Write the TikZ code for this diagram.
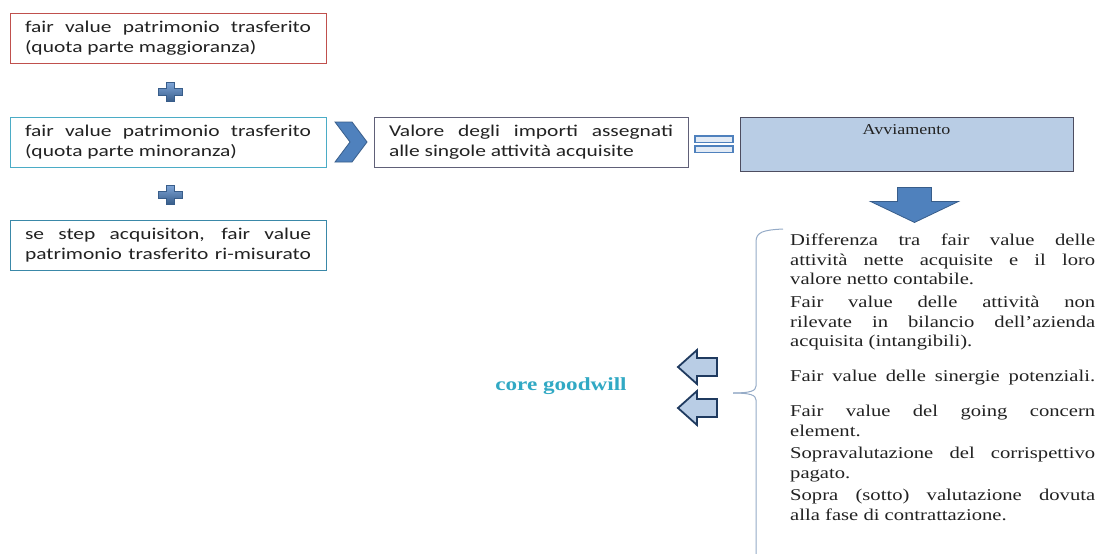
\documentclass[tikz,border=0pt]{standalone}
\usepackage{fontspec}
\setmainfont{Liberation Serif}
\newfontfamily\calfont[FakeStretch=1.3]{Carlito}
\newfontfamily\serfont[FakeStretch=1.25]{Liberation Serif}
\newfontfamily\titlefont[FakeStretch=1.2]{Liberation Serif}
\usetikzlibrary{calc}

\definecolor{boxred}{HTML}{C0504D}
\definecolor{boxcyan}{HTML}{4BACC6}
\definecolor{boxteal}{HTML}{3A88A8}
\definecolor{boxgray}{HTML}{606078}
\definecolor{shapeblue}{HTML}{4F81BD}
\definecolor{shapeedge}{HTML}{385D8A}
\definecolor{plushi}{HTML}{7FA6D8}
\definecolor{paleblue}{HTML}{B9CDE5}
\definecolor{navy}{HTML}{1F3A5F}
\definecolor{bracecol}{HTML}{95ABC7}
\definecolor{goodwill}{HTML}{31A9C4}
\definecolor{txt}{HTML}{222222}

\tikzset{
  srcbox/.style={draw, line width=0.9pt, fill=white, minimum width=316pt,
    minimum height=50pt, text width=286pt, inner xsep=15pt, inner ysep=2pt,
    align=justify, text=txt, font=\calfont\fontsize{16.5}{19.5}\selectfont},
  para/.style={anchor=north west, text width=305pt, align=justify, inner sep=0pt,
    text=txt, font=\serfont\fontsize{16.5}{19.5}\selectfont},
  plussign/.pic={
    \draw[top color=plushi, bottom color=shapeedge, draw=shapeedge, line width=0.6pt]
      (-4,-9.5) -- (4,-9.5) -- (4,-3.5) -- (12,-3.5) -- (12,3.5) -- (4,3.5) --
      (4,9.5) -- (-4,9.5) -- (-4,3.5) -- (-12,3.5) -- (-12,-3.5) -- (-4,-3.5) -- cycle;
  },
  chevron/.pic={
    \draw[fill=shapeblue, draw=shapeedge, line width=0.8pt]
      (-16,-20) -- (1,-20) -- (16,0) -- (1,20) -- (-16,20) -- (-1,0) -- cycle;
  },
  equalsign/.pic={
    \draw[fill=paleblue!40, draw=shapeblue, line width=1.4pt]
      (-19,-7) rectangle (19,-0.5) (-19,3) rectangle (19,9.5);
  },
  downarrow/.pic={
    \draw[fill=shapeblue, draw=shapeedge, line width=0.8pt]
      (-17,0) -- (17,0) -- (17,14) -- (44,14) -- (0,35) -- (-44,14) -- (-17,14) -- cycle;
  },
  leftarrow/.pic={
    \draw[fill=paleblue, draw=navy, line width=1.8pt, line join=miter]
      (0,0) -- (19,-17) -- (19,-9) -- (39,-9) -- (39,9) -- (19,9) -- (19,17) -- cycle;
  },
}

\begin{document}
\begin{tikzpicture}[x=1pt, y=-1pt]
  \useasboundingbox[fill=white] (0,0) rectangle (1104,554);

  % operands of the sum
  \node[srcbox, draw=boxred] (maj) at (168,38)
    {fair value patrimonio trasferito\linebreak (quota parte maggioranza)};
  \node[srcbox, draw=boxcyan] (min) at (168,142)
    {fair value patrimonio trasferito\linebreak (quota parte minoranza)};
  \node[srcbox, draw=boxteal] (stp) at (168,245)
    {\parfillskip=0pt se step acquisiton, fair value\linebreak patrimonio trasferito ri-misurato\par};

  \pic at ($(maj.south)!0.5!(min.north)+(2,2)$) {plussign};
  \pic at ($(min.south)!0.5!(stp.north)+(2,1)$) {plussign};

  % assigned values and goodwill
  \node[srcbox, draw=boxgray, minimum width=314pt, text width=284pt] (val) at (531,142)
    {Valore degli importi assegnati\linebreak alle singole attività acquisite};
  \node[draw=boxgray!80!black, line width=0.9pt, fill=paleblue, minimum width=333pt,
        minimum height=54pt, inner sep=0pt] (avv) at (906.5,144) {};
  \node[text=txt, font=\titlefont\fontsize{15}{17}\selectfont, anchor=base]
    (avvtxt) at ($(avv.north)+(0,18)$) {Avviamento};

  \pic at ($(min.east)!0.5!(val.west)+(1,0)$) {chevron};
  \pic at ($(val.east)!0.5!(avv.west)$) {equalsign};
  \pic at ($(avv.south)+(8,16)$) {downarrow};

  % components of goodwill
  \coordinate (btop) at (783,229);
  \coordinate (btip) at (733,393);
  \coordinate (bbot) at (756,554);
  \draw[bracecol, line width=1pt]
    (btop) .. controls (763,230) and (756,232) .. (756,242) -- (756,386)
    .. controls (756,391) and (750,393) .. (btip);
  \draw[bracecol, line width=1pt]
    (btip) .. controls (750,393) and (756,395) .. (756,400) -- (bbot);

  \node[para] (p1) at (790,234)
    {Differenza tra fair value delle\linebreak attività nette acquisite e il loro\linebreak valore netto contabile.};
  \node[para] (p2) at (790,296)
    {Fair value delle attività non\linebreak rilevate in bilancio dell’azienda\linebreak acquisita (intangibili).};
  \node[para] (p3) at (790,370)
    {\parfillskip=0pt Fair value delle sinergie potenziali.\par};
  \node[para] (p4) at (790,405)
    {Fair value del going concern\linebreak element.};
  \node[para] (p5) at (790,447)
    {Sopravalutazione del corrispettivo\linebreak pagato.};
  \node[para] (p6) at (790,489)
    {Sopra (sotto) valutazione dovuta\linebreak alla fase di contrattazione.};

  \pic at (678,367) {leftarrow};
  \pic at (678,408) {leftarrow};
  \node[text=goodwill, font=\serfont\bfseries\fontsize{18.5}{21}\selectfont]
    (core) at (561,386) {core goodwill};
\end{tikzpicture}
\end{document}
